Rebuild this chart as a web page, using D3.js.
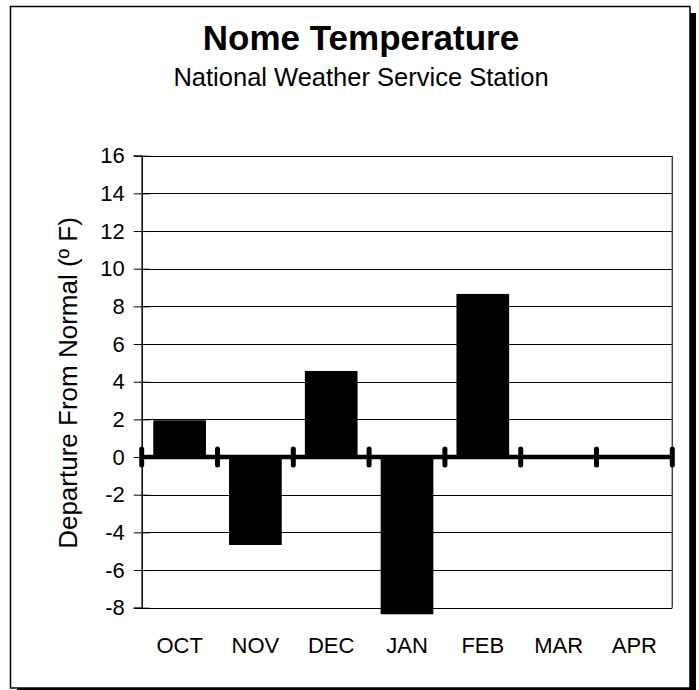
<!DOCTYPE html>
<html>
<head>
<meta charset="utf-8">
<script src="https://cdn.jsdelivr.net/npm/d3@7"></script>
<style>
  html, body { margin: 0; padding: 0; background: #fff; }
  svg { display: block; font-family: "Liberation Sans", Arial, sans-serif; }
</style>
</head>
<body>
<svg id="chart" width="699" height="690"></svg>
<script>
const categories = ["OCT", "NOV", "DEC", "JAN", "FEB", "MAR", "APR"];
const departures = [1.95, -4.67, 4.57, -8.35, 8.66, null, null];
const yTicks = [-8, -6, -4, -2, 0, 2, 4, 6, 8, 10, 12, 14, 16];
const titleText = "Nome Temperature";
const subtitleText = "National Weather Service Station";
const yLabelText = "Departure From Normal (º F)";

const svg = d3.select("#chart");
const plot = { left: 141.7, right: 672.3, top: 155.7, bottom: 607.7 };

// Frame with shadow
svg.append("rect").attr("x", 690).attr("y", 13).attr("width", 6).attr("height", 680).attr("fill", "#000");
svg.append("rect").attr("x", 17).attr("y", 688).attr("width", 679).attr("height", 5).attr("fill", "#000");
svg.append("rect").attr("x", 10.5).attr("y", 6.5).attr("width", 679.5).attr("height", 681.5)
  .attr("fill", "#fff").attr("stroke", "#000").attr("stroke-width", 1.5);

// Titles
svg.append("text").attr("x", 361).attr("y", 50).attr("text-anchor", "middle")
  .attr("font-size", 35).attr("font-weight", "bold").text(titleText);
svg.append("text").attr("x", 361).attr("y", 86).attr("text-anchor", "middle")
  .attr("font-size", 25.5).text(subtitleText);

const x = d3.scaleBand().domain(categories).range([plot.left, plot.right])
  .paddingInner(0.305).paddingOuter(0.1525);
const y = d3.scaleLinear().domain([-8, 16]).range([plot.bottom, plot.top]);

// Gridlines
svg.append("g").selectAll("line").data(yTicks).join("line")
  .attr("x1", plot.left).attr("x2", plot.right)
  .attr("y1", d => Math.round(y(d)) + 0.5).attr("y2", d => Math.round(y(d)) + 0.5)
  .attr("stroke", "#000").attr("stroke-width", 1);

// Plot border right
svg.append("line").attr("x1", plot.right).attr("x2", plot.right)
  .attr("y1", plot.top).attr("y2", plot.bottom).attr("stroke", "#444").attr("stroke-width", 1.5);

// Y axis
const yAxis = d3.axisLeft(y).tickValues(yTicks).tickSize(8).tickPadding(9).tickFormat(d => String(d));
const gy = svg.append("g").attr("transform", `translate(${plot.left},0)`).call(yAxis);
gy.select(".domain").attr("stroke", "#000").attr("stroke-width", 1.5);
gy.selectAll(".tick line").attr("x2", 8).attr("x1", -8).attr("stroke", "#000").attr("stroke-width", 1);
gy.selectAll(".tick text").attr("font-size", 22).attr("font-family", "Liberation Sans, Arial, sans-serif")
  .attr("fill", "#000").attr("x", -17);

// Bars
svg.append("g").selectAll("rect").data(categories.map((c, i) => ({ c, v: departures[i] })).filter(d => d.v !== null))
  .join("rect")
  .attr("x", d => x(d.c))
  .attr("width", x.bandwidth())
  .attr("y", d => Math.min(y(d.v), y(0)))
  .attr("height", d => Math.abs(y(d.v) - y(0)))
  .attr("fill", "#000");

// Zero line
svg.append("line").attr("x1", plot.left).attr("x2", plot.right)
  .attr("y1", y(0)).attr("y2", y(0)).attr("stroke", "#000").attr("stroke-width", 4.5);

// Category separator ticks
const sepX = categories.map(c => x(c) - x.step() * x.paddingInner() / 2).concat([plot.right]);
sepX[0] = plot.left;
svg.append("g").selectAll("line").data(sepX).join("line")
  .attr("x1", d => d).attr("x2", d => d)
  .attr("y1", y(0) - 8).attr("y2", y(0) + 8)
  .attr("stroke", "#000").attr("stroke-width", 5).attr("stroke-linecap", "round");

// Category labels
const xAxis = d3.axisBottom(x).tickSize(0).tickPadding(0);
const gx = svg.append("g").attr("transform", `translate(0,${plot.bottom})`).call(xAxis);
gx.select(".domain").remove();
gx.selectAll(".tick text").attr("font-size", 22).attr("font-family", "Liberation Sans, Arial, sans-serif")
  .attr("fill", "#000").attr("dy", null).attr("y", 45);

// Y label
svg.append("text").attr("transform", "translate(77,383) rotate(-90)")
  .attr("text-anchor", "middle").attr("font-size", 26).text(yLabelText);
</script>
</body>
</html>
